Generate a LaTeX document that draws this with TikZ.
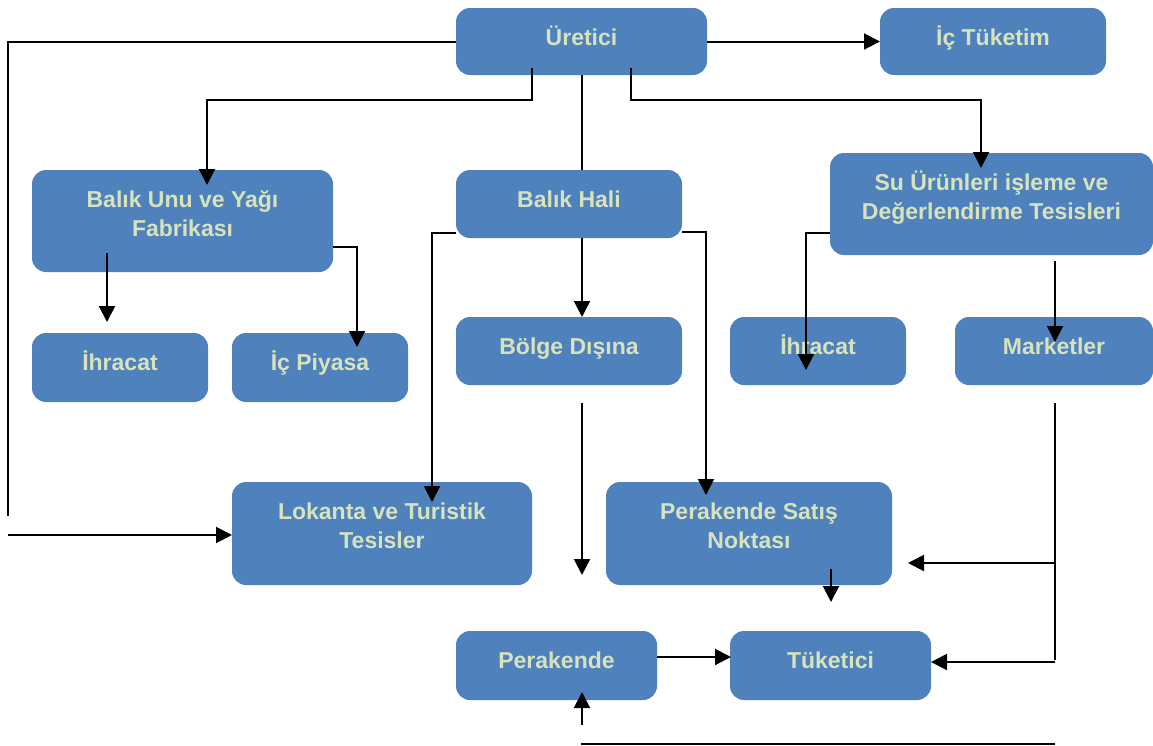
\documentclass[tikz,border=0pt]{standalone}
\usepackage{fontspec}
\setmainfont{Liberation Sans}
\usetikzlibrary{arrows.meta}
\definecolor{boxblue}{HTML}{4F81BD}
\definecolor{txtcol}{HTML}{D7E3BC}
\tikzset{
  box/.style={fill=boxblue, draw=none, rounded corners=14pt, anchor=north west, inner sep=0pt, outer sep=0pt},
  lbl/.style={text=txtcol, font=\fontsize{23}{29}\selectfont\bfseries, align=center, inner sep=0pt, anchor=base},
  conn/.style={line width=2pt, draw=black},
  arr/.style={conn, -{Triangle[length=16pt,width=16pt]}}
}
\begin{document}
\begin{tikzpicture}[x=1pt,y=-1pt]
\useasboundingbox (0,0) rectangle (1153,745);
% boxes
\node[box, minimum width=251pt, minimum height=67pt] (uretici) at (456,8) {};
\node[box, minimum width=226pt, minimum height=67pt] (ictuketim) at (880,8) {};
\node[box, minimum width=301pt, minimum height=102pt] (balikunu) at (32,170) {};
\node[box, minimum width=226pt, minimum height=68pt] (balikhali) at (456,170) {};
\node[box, minimum width=323pt, minimum height=102pt] (suurun) at (830,153) {};
\node[box, minimum width=176pt, minimum height=69pt] (ihracatA) at (32,333) {};
\node[box, minimum width=176pt, minimum height=69pt] (icpiyasa) at (232,333) {};
\node[box, minimum width=226pt, minimum height=68pt] (bolge) at (456,317) {};
\node[box, minimum width=176pt, minimum height=68pt] (ihracatB) at (730,317) {};
\node[box, minimum width=198pt, minimum height=68pt] (marketler) at (955,317) {};
\node[box, minimum width=300pt, minimum height=103pt] (lokanta) at (232,482) {};
\node[box, minimum width=286pt, minimum height=103pt] (persatis) at (606,482) {};
\node[box, minimum width=201pt, minimum height=69pt] (perakende) at (456,631) {};
\node[box, minimum width=201pt, minimum height=69pt] (tuketici) at (730,631) {};
% labels (base anchor = baseline of the last line)
\node[lbl] (uretici-t) at ([yshift=-37.5pt]uretici.north) {Üretici};
\node[lbl] (ictuketim-t) at ([yshift=-37.5pt]ictuketim.north) {İç Tüketim};
\node[lbl] (balikunu-t) at ([yshift=-66.5pt]balikunu.north) {Balık Unu ve Yağı\\Fabrikası};
\node[lbl] (balikhali-t) at ([yshift=-37.5pt]balikhali.north) {Balık Hali};
\node[lbl] (suurun-t) at ([yshift=-66.5pt]suurun.north) {Su Ürünleri işleme ve\\Değerlendirme Tesisleri};
\node[lbl] (ihracatA-t) at ([yshift=-37.5pt]ihracatA.north) {İhracat};
\node[lbl] (icpiyasa-t) at ([yshift=-37.5pt]icpiyasa.north) {İç Piyasa};
\node[lbl] (bolge-t) at ([yshift=-37.5pt]bolge.north) {Bölge Dışına};
\node[lbl] (ihracatB-t) at ([yshift=-37.5pt]ihracatB.north) {İhracat};
\node[lbl] (marketler-t) at ([yshift=-37.5pt]marketler.north) {Marketler};
\node[lbl] (lokanta-t) at ([yshift=-66.5pt]lokanta.north) {Lokanta ve Turistik\\Tesisler};
\node[lbl] (persatis-t) at ([yshift=-66.5pt]persatis.north) {Perakende Satış\\Noktası};
\node[lbl] (perakende-t) at ([yshift=-37.5pt]perakende.north) {Perakende};
\node[lbl] (tuketici-t) at ([yshift=-37.5pt]tuketici.north) {Tüketici};
% coordinates
\coordinate (lw1) at (8,516);
\coordinate (lw2) at (8,535);
\coordinate (uL) at (532,68);
\coordinate (uR) at (631,68);
\coordinate (fabTip) at (207,185);
\coordinate (suTip) at (981,168);
\coordinate (fA1) at (107,253);
\coordinate (fA2) at (107,322);
\coordinate (fB1) at (333,247);
\coordinate (fB2) at (357,347);
\coordinate (hL1) at (456,233);
\coordinate (hL2) at (432,502);
\coordinate (hR1) at (682,232);
\coordinate (hR2) at (706,495);
\coordinate (bd1) at (582,403);
\coordinate (bd2) at (582,575);
\coordinate (sL1) at (830,233);
\coordinate (sL2) at (806,370);
\coordinate (sR1) at (1055,261);
\coordinate (sR2) at (1055,342);
\coordinate (mk1) at (1055,403);
\coordinate (mk2) at (1055,662);
\coordinate (mkA) at (1055,563);
\coordinate (psTip) at (908,563);
\coordinate (ps1) at (831,569);
\coordinate (ps2) at (831,602);
\coordinate (pk1) at (657,657);
\coordinate (pk2) at (731,657);
\coordinate (up1) at (582,725);
\coordinate (up2) at (582,692);
\coordinate (bl1) at (581,744);
\coordinate (bl2) at (1055,744);
% connectors
\draw[conn] (uretici.west) -| (lw1);
\draw[arr] (lw2) -- (lokanta.west |- lw2);
\draw[arr] (uretici.east) -- (ictuketim.west);
\draw[arr] (uL) -- ++(0,32) -| (fabTip);
\draw[conn] (uretici.south -| 582,0) -- (582,170);
\draw[arr] (uR) -- ++(0,32) -| (suTip);
\draw[arr] (fA1) -- (fA2);
\draw[arr] (fB1) -| (fB2);
\draw[arr] (hL1) -| (hL2);
\draw[arr] (582,238) -- (bolge.north -| 582,0);
\draw[arr] (hR1) -| (hR2);
\draw[arr] (bd1) -- (bd2);
\draw[arr] (sL1) -| (sL2);
\draw[arr] (sR1) -- (sR2);
\draw[conn] (mk1) -- (1055,660);
\draw[arr] (mkA) -- (psTip);
\draw[arr] (mk2) -- (tuketici.east |- mk2);
\draw[arr] (ps1) -- (ps2);
\draw[arr] (pk1) -- (pk2);
\draw[arr] (up1) -- (up2);
\draw[conn] (bl1) -- (bl2);
\end{tikzpicture}
\end{document}
